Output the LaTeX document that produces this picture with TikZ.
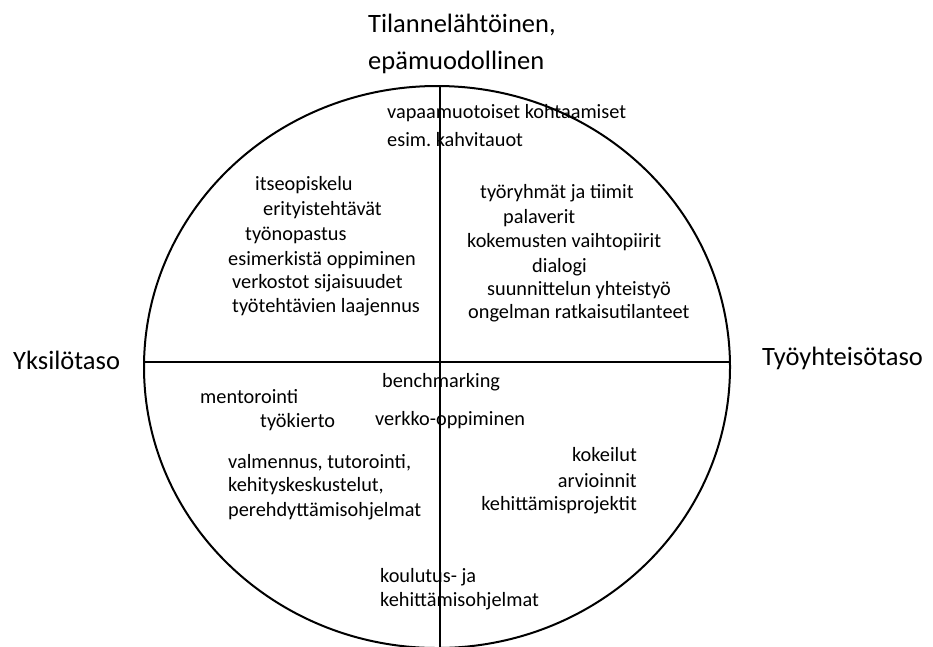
\documentclass[tikz,border=0pt]{standalone}
\usepackage{fontspec}
\setmainfont{Carlito}
\usetikzlibrary{shapes.geometric}
\begin{document}
\begin{tikzpicture}[x=1pt,y=-1pt,
  hdr/.style={font=\fontsize{26.5}{30}\selectfont, inner sep=0, anchor=west},
  lbl/.style={font=\fontsize{20.3}{24}\selectfont, inner sep=0, anchor=west},
  lblr/.style={lbl, anchor=east},
  axis/.style={line width=1.4pt, black}]
\useasboundingbox (0,0) rectangle (933,646);
% circle and axes
\node (c) [ellipse, draw, line width=2pt, minimum width=586pt, minimum height=562pt, inner sep=0pt] at (437,367) {};
\coordinate (vt) at (440,87);
\coordinate (vb) at (440,650);
\coordinate (hl) at (143,362);
\coordinate (hr) at (730,362);
\draw[axis] (vt) -- (vb);
\draw[axis] (hl) -- (hr);
% headers
\node (t1) [hdr] at (368,25) {Tilannelähtöinen,};
\node (t2) [hdr] at (368,62) {epämuodollinen};
\node (yk) [hdr] at (13,360) {Yksilötaso};
\node (ty) [hdr] at (762,358) {Työyhteisötaso};
% top
\node (v1) [lbl] at (387,113) {vapaamuotoiset kohtaamiset};
\node (v2) [lbl] at (387,140) {esim.\ kahvitauot};
% top left
\node (a1) [lbl] at (255,185) {itseopiskelu};
\node (a2) [lbl] at (263,210) {erityistehtävät};
\node (a3) [lbl] at (245,235) {työnopastus};
\node (a4) [lbl] at (228,260) {esimerkistä oppiminen};
\node (a5) [lbl] at (232,283) {verkostot sijaisuudet};
\node (a6) [lbl] at (232,307) {työtehtävien laajennus};
% top right
\node (b1) [lbl] at (480,193) {työryhmät ja tiimit};
\node (b2) [lbl] at (503,218) {palaverit};
\node (b3) [lbl] at (467,242) {kokemusten vaihtopiirit};
\node (b4) [lbl] at (532,267) {dialogi};
\node (b5) [lbl] at (487,290) {suunnittelun yhteistyö};
\node (b6) [lbl] at (468,313) {ongelman ratkaisutilanteet};
% lower
\node (c1) [lbl] at (382,382) {benchmarking};
\node (c2) [lbl] at (200,397) {mentorointi};
\node (c3) [lbl] at (260,422) {työkierto};
\node (c4) [lbl] at (375,420) {verkko-oppiminen};
\node (d1) [lbl] at (228,463) {valmennus, tutorointi,};
\node (d2) [lbl] at (228,486) {kehityskeskustelut,};
\node (d3) [lbl] at (228,511) {perehdyttämisohjelmat};
\node (e1) [lblr] at (637,455) {kokeilut};
\node (e2) [lblr] at (637,481) {arvioinnit};
\node (e3) [lblr] at (637,505) {kehittämisprojektit};
\node (f1) [lbl] at (380,577) {koulutus- ja};
\node (f2) [lbl] at (380,601) {kehittämisohjelmat};
\end{tikzpicture}
\end{document}
